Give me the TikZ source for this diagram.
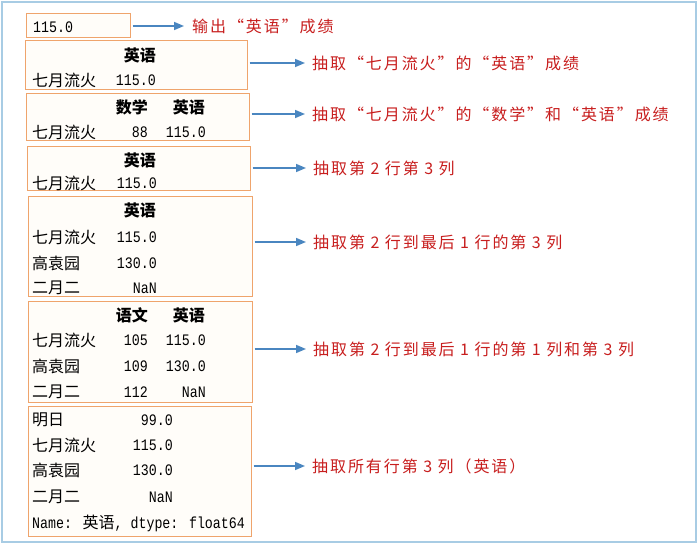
\documentclass[tikz,border=0pt]{standalone}
\usepackage{fontspec}
\usetikzlibrary{arrows.meta,fit}
\newfontfamily\cjk{Noto Sans CJK SC}
\newfontfamily\cjklab[LetterSpace=12]{Noto Sans CJK SC}
\newfontfamily\monof[FakeStretch=0.83]{Liberation Mono}
\definecolor{labred}{HTML}{C81E1E}
\definecolor{boxc}{HTML}{EFA46C}
\definecolor{boxf}{HTML}{FFFDF9}
\definecolor{arrc}{HTML}{4A86C0}
\definecolor{framec}{HTML}{A8CCE4}
\tikzset{
  tbl/.style={font=\cjk\fontsize{16}{18}\selectfont, inner sep=0pt},
  hdr/.style={font=\cjk\bfseries\fontsize{16}{18}\selectfont, inner sep=0pt},
  num/.style={font=\monof\fontsize{16}{18}\selectfont, inner sep=0pt},
  lab/.style={font=\cjklab\fontsize{16}{18}\selectfont, text=labred, inner sep=0pt, anchor=west},
  box/.style={draw=boxc, fill=boxf, line width=1pt, inner sep=0pt},
  arr/.style={draw=arrc, line width=1.6pt, -{Triangle[length=10pt,width=8pt]}, shorten <=2pt, shorten >=7pt}
}
\begin{document}
\begin{tikzpicture}[x=1pt,y=-1pt]
\fill[white] (0,0) rectangle (698,545);
\useasboundingbox (0,0) rectangle (698,545);
\draw[framec, line width=2pt] (2,2) rectangle (696,542);

% boxes
\node[box, fit={(26,14) (130,38)}] (b1) {};
\node[box, fit={(25,41) (247,90)}] (b2) {};
\node[box, fit={(26,94) (249,141)}] (b3) {};
\node[box, fit={(27,147) (250,191)}] (b4) {};
\node[box, fit={(28,197) (252,296)}] (b5) {};
\node[box, fit={(28,301) (252,402)}] (b6) {};
\node[box, fit={(28,406) (251,536)}] (b7) {};

% box 1
\node[num, anchor=west] (t1a) at (33,27) {115.0};
% box 2
\node[hdr, anchor=east] (t2h) at (156,55) {英语};
\node[tbl, anchor=west] (t2r) at (32,80) {七月流火};
\node[num, anchor=east] (t2v) at (156,80) {115.0};
% box 3
\node[hdr, anchor=east] (t3h1) at (148,107) {数学};
\node[hdr, anchor=east] (t3h2) at (205,107) {英语};
\node[tbl, anchor=west] (t3r) at (32,132) {七月流火};
\node[num, anchor=east] (t3v1) at (148,132) {88};
\node[num, anchor=east] (t3v2) at (206,132) {115.0};
% box 4
\node[hdr, anchor=east] (t4h) at (156,160) {英语};
\node[tbl, anchor=west] (t4r) at (32,183) {七月流火};
\node[num, anchor=east] (t4v) at (157,183) {115.0};
% box 5
\node[hdr, anchor=east] (t5h) at (156,210) {英语};
\node[tbl, anchor=west] (t5r1) at (32,237) {七月流火};
\node[num, anchor=east] (t5v1) at (157,237) {115.0};
\node[tbl, anchor=west] (t5r2) at (32,263) {高袁园};
\node[num, anchor=east] (t5v2) at (157,263) {130.0};
\node[tbl, anchor=west] (t5r3) at (32,288) {二月二};
\node[num, anchor=east] (t5v3) at (157,288) {NaN};
% box 6
\node[hdr, anchor=east] (t6h1) at (148,315) {语文};
\node[hdr, anchor=east] (t6h2) at (205,315) {英语};
\node[tbl, anchor=west] (t6r1) at (32,340) {七月流火};
\node[num, anchor=east] (t6a1) at (148,340) {105};
\node[num, anchor=east] (t6b1) at (206,340) {115.0};
\node[tbl, anchor=west] (t6r2) at (32,366) {高袁园};
\node[num, anchor=east] (t6a2) at (148,366) {109};
\node[num, anchor=east] (t6b2) at (206,366) {130.0};
\node[tbl, anchor=west] (t6r3) at (32,392) {二月二};
\node[num, anchor=east] (t6a3) at (148,392) {112};
\node[num, anchor=east] (t6b3) at (206,392) {NaN};
% box 7
\node[tbl, anchor=west] (t7r1) at (32,420) {明日};
\node[num, anchor=east] (t7v1) at (173,420) {99.0};
\node[tbl, anchor=west] (t7r2) at (32,445) {七月流火};
\node[num, anchor=east] (t7v2) at (173,445) {115.0};
\node[tbl, anchor=west] (t7r3) at (32,470) {高袁园};
\node[num, anchor=east] (t7v3) at (173,470) {130.0};
\node[tbl, anchor=west] (t7r4) at (32,497) {二月二};
\node[num, anchor=east] (t7v4) at (173,497) {NaN};
\node[num, anchor=west] (t7n) at (32,523) {Name: {\cjk\fontsize{16}{18}\selectfont 英语}, dtype: float64};

% labels
\node[lab] (l1) at (192,26) {输出“英语”成绩};
\node[lab] (l2) at (312,63) {抽取“七月流火”的“英语”成绩};
\node[lab] (l3) at (312,114) {抽取“七月流火”的“数学”和“英语”成绩};
\node[lab] (l4) at (313,168) {抽取第 2 行第 3 列};
\node[lab] (l5) at (313,242) {抽取第 2 行到最后 1 行的第 3 列};
\node[lab] (l6) at (313,349) {抽取第 2 行到最后 1 行的第 1 列和第 3 列};
\node[lab] (l7) at (312,466) {抽取所有行第 3 列（英语）};

% arrows
\draw[arr, shorten >=8pt] (b1.east |- l1.west) -- (l1.west);
\draw[arr] (b2.east |- l2.west) -- (l2.west);
\draw[arr] (b3.east |- l3.west) -- (l3.west);
\draw[arr] (b4.east |- l4.west) -- (l4.west);
\draw[arr] (b5.east |- l5.west) -- (l5.west);
\draw[arr] (b6.east |- l6.west) -- (l6.west);
\draw[arr] (b7.east |- l7.west) -- (l7.west);
\end{tikzpicture}
\end{document}
